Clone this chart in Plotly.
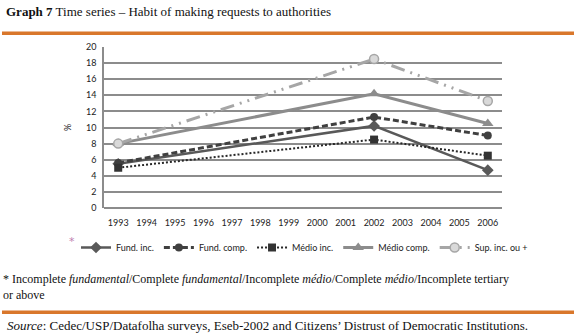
import plotly.graph_objects as go

years = [1993, 2002, 2006]
tick_years = list(range(1993, 2007))
fund_inc = [5.5, 10.2, 4.7]
fund_comp = [5.6, 11.3, 9.0]
medio_inc = [5.0, 8.5, 6.5]
medio_comp = [8.0, 14.2, 10.5]
sup_inc = [8.0, 18.5, 13.3]

W, H = 576, 335
L, R, T, B = 104, 74, 47, 127
PW, PH = W - L - R, H - T - B

def px(x):
    return (x - L) / PW

def py(y):
    return (H - B - y) / PH

fig = go.Figure()
fig.add_trace(go.Scatter(x=years, y=fund_inc, name="Fund. inc.", mode="lines+markers",
                         line=dict(color="#595959", width=2.5),
                         marker=dict(symbol="diamond", size=9, color="#595959")))
fig.add_trace(go.Scatter(x=years, y=fund_comp, name="Fund. comp.", mode="lines+markers",
                         line=dict(color="#404040", width=3, dash="6px,3px"),
                         marker=dict(symbol="circle", size=8, color="#404040")))
fig.add_trace(go.Scatter(x=years, y=medio_inc, name="Médio inc.", mode="lines+markers",
                         line=dict(color="#262626", width=2, dash="2px,2px"),
                         marker=dict(symbol="square", size=8, color="#333333")))
fig.add_trace(go.Scatter(x=years, y=medio_comp, name="Médio comp.", mode="lines+markers",
                         line=dict(color="#8c8c8c", width=3),
                         marker=dict(symbol="triangle-up", size=10, color="#8c8c8c")))
fig.add_trace(go.Scatter(x=years, y=sup_inc, name="Sup. inc. ou +", mode="lines+markers",
                         line=dict(color="#a6a6a6", width=3, dash="14px,6px,2px,6px,2px,6px"),
                         marker=dict(symbol="circle", size=9, color="#d9d9d9",
                                     line=dict(color="#a6a6a6", width=1.5))))

tick_font = dict(family="Lato, Open Sans, sans-serif", size=9, color="#222222")
fig.update_layout(
    width=W, height=H,
    margin=dict(l=L, r=R, t=T, b=B),
    paper_bgcolor="white", plot_bgcolor="white",
    showlegend=True,
    legend=dict(orientation="h", x=px(76), y=py(233), xanchor="left", yanchor="top",
                font=dict(family="Lato, Open Sans, sans-serif", size=9, color="#222222"),
                itemwidth=30, tracegroupgap=0, bgcolor="rgba(0,0,0,0)"),
    xaxis=dict(range=[1992.5, 2006.5], tickvals=tick_years,
               ticktext=[str(y) for y in tick_years], showgrid=False, zeroline=False,
               showline=False, ticks="", tickfont=tick_font, ticklabelstandoff=8),
    yaxis=dict(range=[0, 20], dtick=2, showgrid=True, gridcolor="#8c8c8c", gridwidth=1.5,
               zeroline=True, zerolinecolor="#8c8c8c", zerolinewidth=1.5,
               showline=True, linecolor="#8c8c8c", linewidth=1.5,
               ticks="", tickfont=tick_font, ticklabelstandoff=4),
)

orange = "#d9772b"
fig.add_shape(type="rect", xref="paper", yref="paper", x0=px(2), x1=px(574), y0=py(35), y1=py(31.5),
              fillcolor=orange, line=dict(width=0))
fig.add_shape(type="rect", xref="paper", yref="paper", x0=px(2), x1=px(574), y0=py(314), y1=py(310.5),
              fillcolor=orange, line=dict(width=0))

serif = "Liberation Serif, DejaVu Serif, serif"
fig.add_annotation(xref="paper", yref="paper", x=px(4), y=py(12), xanchor="left", yanchor="middle",
                   text="<b>Graph 7</b> Time series – Habit of making requests to authorities",
                   showarrow=False, font=dict(family=serif, size=13, color="#111111"))
fig.add_annotation(xref="paper", yref="paper", x=px(68), y=py(128), xanchor="center", yanchor="middle",
                   text="%", textangle=-90, showarrow=False,
                   font=dict(family="Lato, sans-serif", size=9, color="#222222"))
fig.add_annotation(xref="paper", yref="paper", x=px(72), y=py(241), xanchor="center", yanchor="middle",
                   text="*", showarrow=False, font=dict(family="DejaVu Sans, sans-serif", size=11, color="#c080b0"))
fig.add_annotation(xref="paper", yref="paper", x=px(1), y=py(270), xanchor="left", yanchor="top",
                   align="left",
                   text="* Incomplete <i>fundamental</i>/Complete <i>fundamental</i>/Incomplete <i>médio</i>/Complete <i>médio</i>/Incomplete tertiary<br>or above",
                   showarrow=False, font=dict(family=serif, size=12, color="#111111"))
fig.add_annotation(xref="paper", yref="paper", x=px(5), y=py(325), xanchor="left", yanchor="middle",
                   text="<i>Source</i>: Cedec/USP/Datafolha surveys, Eseb-2002 and Citizens’ Distrust of Democratic Institutions.",
                   showarrow=False, font=dict(family=serif, size=13, color="#111111"))

fig.write_html("out.html", config={"displayModeBar": False},
               post_script="document.body.style.margin='0';document.body.style.padding='0';")
